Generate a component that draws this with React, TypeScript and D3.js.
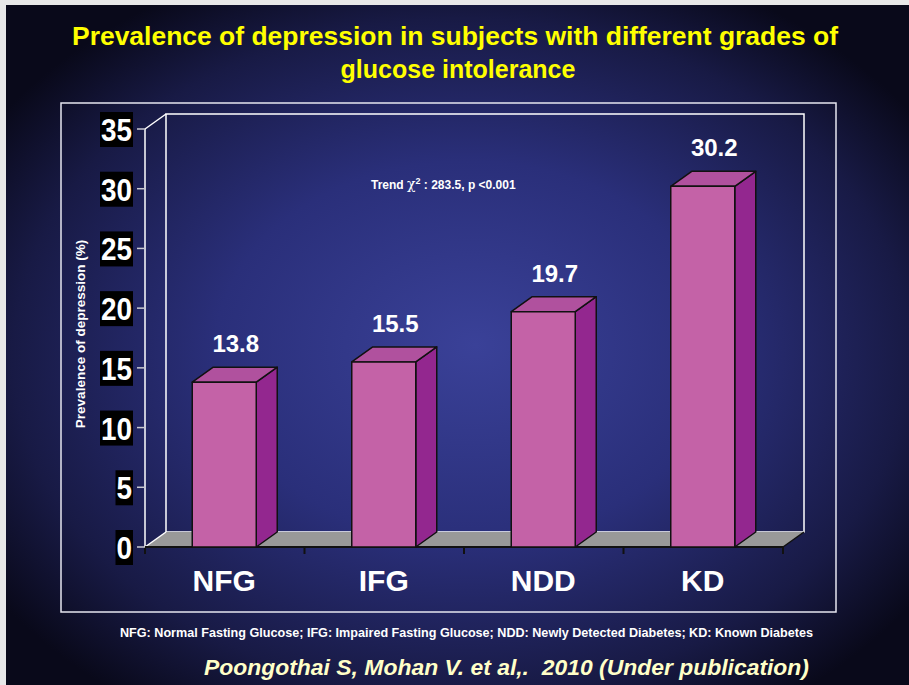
import * as d3 from "d3";

// data
const categories = ["NFG", "IFG", "NDD", "KD"];
const prevalence = [13.8, 15.5, 19.7, 30.2];
const yTicks = [0, 5, 10, 15, 20, 25, 30, 35];

const W = 909;
const H = 685;

// 3D depth of the chart box
const depthX = 21;
const depthY = -15;

const x = d3.scaleBand<string>().domain(categories).range([145, 783]).padding(0);
const y = d3.scaleLinear().domain([0, 35]).range([547, 129]);

const barW = 64;
const fontMain = "Arial, 'Liberation Sans', Helvetica, sans-serif";

export default function App() {
  const x0 = x.range()[0];
  const x1 = x.range()[1];
  const yBase = y(0);
  const yTop = y(35);

  // floor parallelogram
  const floor = d3.path();
  floor.moveTo(x0, yBase);
  floor.lineTo(x1, yBase);
  floor.lineTo(x1 + depthX, yBase + depthY);
  floor.lineTo(x0 + depthX, yBase + depthY);
  floor.closePath();

  return (
    <svg width={W} height={H} style={{ position: "absolute", left: 0, top: 0 }}>
      <defs>
        <radialGradient id="bg" cx="0.5" cy="0.52" r="0.62" fx="0.52" fy="0.5">
          <stop offset="0" stopColor="#3a4198" />
          <stop offset="0.45" stopColor="#2a2f7a" />
          <stop offset="0.8" stopColor="#181a45" />
          <stop offset="1" stopColor="#09091a" />
        </radialGradient>
      </defs>
      <rect x={0} y={0} width={W} height={H} fill="#e8e8e8" />
      <rect x={6} y={5} width={W - 6} height={H - 5} fill="url(#bg)" />

      {/* title */}
      <g fill="#ffff00" fontFamily={fontMain} fontWeight="bold" fontSize={25} textAnchor="middle">
        <text x={455} y={45} textLength={766} lengthAdjust="spacingAndGlyphs">
          Prevalence of depression in subjects with different grades of
        </text>
        <text x={458} y={78}>glucose intolerance</text>
      </g>

      {/* outer frame */}
      <rect x={61} y={103} width={775} height={509} fill="none" stroke="#e6e6f0" strokeWidth={1.5} />

      {/* back wall */}
      <rect
        x={x0 + depthX}
        y={yTop + depthY}
        width={x1 - x0}
        height={yBase - yTop}
        fill="none"
        stroke="#ffffff"
        strokeWidth={1.5}
      />
      {/* left wall edges */}
      <line x1={x0} y1={yTop} x2={x0 + depthX} y2={yTop + depthY} stroke="#ffffff" strokeWidth={1.5} />
      <line x1={x0} y1={yTop} x2={x0} y2={yBase} stroke="#ffffff" strokeWidth={1.5} />

      {/* floor */}
      <path d={floor.toString()} fill="#999999" />
      <line x1={x0} y1={yBase} x2={x0 + depthX} y2={yBase + depthY} stroke="#ffffff" strokeWidth={1.5} />
      <line x1={x0} y1={yBase} x2={x1} y2={yBase} stroke="#111111" strokeWidth={2} />
      <line x1={x1} y1={yBase} x2={x1 + depthX} y2={yBase + depthY} stroke="#111111" strokeWidth={1.5} />

      {/* x ticks */}
      {[...categories.map((c) => x(c) as number), x1].map((t, i) => (
        <line key={i} x1={t} y1={yBase} x2={t} y2={yBase + 7} stroke="#111111" strokeWidth={2} />
      ))}

      {/* y ticks and labels */}
      {yTicks.map((t) => {
        const label = String(t);
        const tw = label.length * 15.5;
        return (
          <g key={t}>
            <line x1={x0 - 8} y1={y(t)} x2={x0} y2={y(t)} stroke="#c8c8d0" strokeWidth={1.5} />
            <rect x={132 - tw - 1} y={y(t) - 17} width={tw + 2} height={35} fill="#000000" />
            <text
              x={132}
              y={y(t) + 12}
              fill="#ffffff"
              fontFamily={fontMain}
              fontWeight="bold"
              fontSize={32}
              textAnchor="end"
              textLength={tw}
              lengthAdjust="spacingAndGlyphs"
            >
              {label}
            </text>
          </g>
        );
      })}

      {/* y axis title */}
      <text
        transform="translate(85,334) rotate(-90)"
        fill="#ffffff"
        fontFamily={fontMain}
        fontWeight="bold"
        fontSize={13.5}
        textAnchor="middle"
      >
        Prevalence of depression (%)
      </text>

      {/* bars */}
      {categories.map((c, i) => {
        const v = prevalence[i];
        const cx = (x(c) as number) + x.bandwidth() / 2 - 0.5;
        const bx0 = cx - barW / 2;
        const bx1 = cx + barW / 2;
        const by = y(v);
        const side = `M${bx1},${by} L${bx1 + depthX},${by + depthY} L${bx1 + depthX},${yBase + depthY} L${bx1},${yBase} Z`;
        const top = `M${bx0},${by} L${bx0 + depthX},${by + depthY} L${bx1 + depthX},${by + depthY} L${bx1},${by} Z`;
        return (
          <g key={c} stroke="#111111" strokeWidth={1.5} strokeLinejoin="round">
            <path d={side} fill="#93278f" />
            <path d={top} fill="#b0519e" />
            <rect x={bx0} y={by} width={barW} height={yBase - by} fill="#c462a7" />
            <text
              x={cx + depthX / 2 + 1}
              y={by + depthY - 15}
              fill="#ffffff"
              stroke="none"
              fontFamily={fontMain}
              fontWeight="bold"
              fontSize={24}
              textAnchor="middle"
            >
              {v.toFixed(1)}
            </text>
            <text
              x={cx}
              y={591}
              fill="#ffffff"
              stroke="none"
              fontFamily={fontMain}
              fontWeight="bold"
              fontSize={30}
              textAnchor="middle"
            >
              {c}
            </text>
          </g>
        );
      })}

      {/* trend annotation */}
      <text x={371} y={189} fill="#ffffff" fontFamily={fontMain} fontWeight="bold" fontSize={12}>
        Trend{" "}
        <tspan fontFamily="'DejaVu Serif', serif" fontWeight="normal" fontSize={14}>
          χ
        </tspan>
        <tspan dy={-5} fontSize={9}>
          2
        </tspan>
        <tspan dy={5}> : 283.5, p &lt;0.001</tspan>
      </text>

      {/* footnotes */}
      <text
        x={120}
        y={637}
        fill="#ffffff"
        fontFamily={fontMain}
        fontWeight="bold"
        fontSize={12}
        textLength={693}
        lengthAdjust="spacingAndGlyphs"
      >
        NFG: Normal Fasting Glucose; IFG: Impaired Fasting Glucose; NDD: Newly Detected Diabetes; KD: Known Diabetes
      </text>
      <text
        x={204}
        y={675}
        fill="#ffffc8"
        fontFamily={fontMain}
        fontWeight="bold"
        fontStyle="italic"
        fontSize={22}
        textLength={605}
        lengthAdjust="spacingAndGlyphs"
        style={{ whiteSpace: "pre" }}
      >
        Poongothai S, Mohan V. et al,.  2010 (Under publication)
      </text>
    </svg>
  );
}
